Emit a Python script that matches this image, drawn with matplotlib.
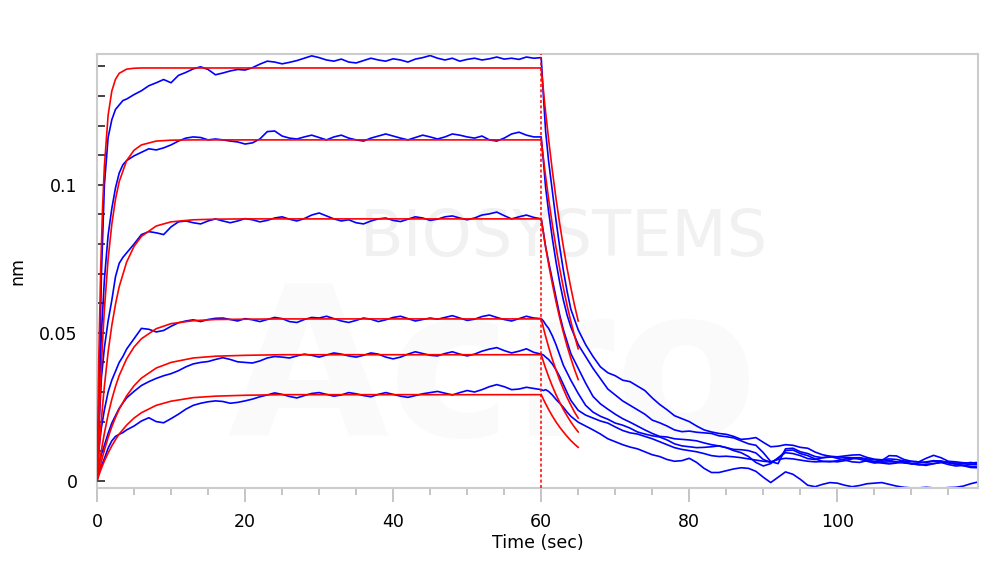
import matplotlib
matplotlib.use("Agg")
import matplotlib.pyplot as plt
from matplotlib.ticker import FixedLocator, MultipleLocator, FuncFormatter

# ---- sample times (sec) ----
t_blue_assoc = [0, 0.3, 0.6, 1, 1.5, 2, 2.5, 3, 3.5] + list(range(4, 61))
t_blue_dissoc = [60.3, 60.6, 61, 61.5, 62, 62.5, 63, 63.5, 64] + list(range(65, 120))
t_fit_assoc = [0, 0.25, 0.5, 0.75, 1, 1.5, 2, 2.5, 3, 4, 5, 6, 8, 10, 13, 16, 20, 25, 60]
t_fit_dissoc = [60, 60.5, 61, 61.5, 62, 62.5, 63, 63.5, 64, 64.5, 65]

# ---- measured response (nm), association ----
blue1_assoc = [0.0, 0.035, 0.07, 0.1, 0.116, 0.122, 0.1255, 0.127, 0.1285,
               0.129, 0.1305, 0.1318, 0.1335, 0.1345, 0.1356, 0.1345, 0.137, 0.138, 0.1392,
               0.1399, 0.139, 0.1372, 0.1378, 0.1385, 0.139, 0.1388, 0.1396, 0.1408, 0.1418,
               0.1415, 0.1409, 0.1414, 0.142, 0.1428, 0.1436, 0.143, 0.1422, 0.1418, 0.1425,
               0.1415, 0.1412, 0.142, 0.1428, 0.1422, 0.1418, 0.1426, 0.1422, 0.1415, 0.1425,
               0.143, 0.1437, 0.1428, 0.1422, 0.1428, 0.1418, 0.1424, 0.1428, 0.1422, 0.1426,
               0.1432, 0.1425, 0.1428, 0.1424, 0.1432, 0.1428, 0.143]
blue2_assoc = [0.0, 0.03, 0.05, 0.068, 0.083, 0.092, 0.099, 0.104, 0.1068,
               0.1082, 0.1098, 0.111, 0.1122, 0.1118, 0.1125, 0.1135, 0.1148, 0.1158, 0.1162,
               0.116, 0.1152, 0.1155, 0.1152, 0.1148, 0.1145, 0.1138, 0.1142, 0.1155, 0.118,
               0.1182, 0.1165, 0.1158, 0.1155, 0.1162, 0.1168, 0.116, 0.1152, 0.1162, 0.1168,
               0.1158, 0.1152, 0.1148, 0.1158, 0.1165, 0.1172, 0.1165, 0.1158, 0.1152, 0.116,
               0.1168, 0.1162, 0.1155, 0.1162, 0.1172, 0.1168, 0.1162, 0.1158, 0.1165, 0.1152,
               0.1148, 0.1158, 0.1172, 0.1178, 0.1168, 0.1162, 0.1162]
blue3_assoc = [0.0, 0.02, 0.035, 0.045, 0.054, 0.061, 0.069, 0.0735, 0.0755,
               0.077, 0.080, 0.0832, 0.0842, 0.0838, 0.0832, 0.0858, 0.0875, 0.0878, 0.0872,
               0.0868, 0.0878, 0.0885, 0.0878, 0.0872, 0.0878, 0.0886, 0.0882, 0.0875, 0.088,
               0.0888, 0.0892, 0.0884, 0.0878, 0.0886, 0.0898, 0.0905, 0.0895, 0.0885, 0.0878,
               0.0882, 0.0872, 0.0868, 0.0878, 0.0885, 0.0888, 0.088, 0.0876, 0.0884, 0.0892,
               0.0888, 0.088, 0.0884, 0.0892, 0.0895, 0.0888, 0.0882, 0.0888, 0.0898, 0.0902,
               0.0908, 0.0896, 0.0885, 0.0892, 0.0898, 0.089, 0.0885]
blue4_assoc = [0.0, 0.012, 0.018, 0.024, 0.03, 0.034, 0.037, 0.040, 0.042,
               0.0445, 0.048, 0.0515, 0.0512, 0.0503, 0.0508, 0.0522, 0.0534, 0.054, 0.0544,
               0.0538, 0.0545, 0.0549, 0.055, 0.0545, 0.054, 0.0548, 0.0544, 0.0538, 0.0545,
               0.0552, 0.0548, 0.0538, 0.0535, 0.0545, 0.0552, 0.055, 0.0556, 0.0548, 0.054,
               0.0535, 0.0542, 0.055, 0.0546, 0.0538, 0.0544, 0.0552, 0.0556, 0.0548, 0.054,
               0.0545, 0.055, 0.0546, 0.0552, 0.0558, 0.055, 0.0542, 0.0546, 0.0555, 0.056,
               0.0552, 0.0545, 0.054, 0.0548, 0.0556, 0.055, 0.0548]
blue5_assoc = [0.0, 0.006, 0.009, 0.012, 0.016, 0.0195, 0.022, 0.0245, 0.0263,
               0.028, 0.0302, 0.0322, 0.0335, 0.0346, 0.0355, 0.0362, 0.0372, 0.0385, 0.0395,
               0.04, 0.0403, 0.041, 0.0416, 0.041, 0.0402, 0.04, 0.0398, 0.0405, 0.0415,
               0.042, 0.0418, 0.0415, 0.0422, 0.0428, 0.0424, 0.0418, 0.0425, 0.0432, 0.0428,
               0.0422, 0.0418, 0.0424, 0.0432, 0.0428, 0.0418, 0.0412, 0.0418, 0.0428, 0.0436,
               0.043, 0.0424, 0.0422, 0.043, 0.0436, 0.0428, 0.0422, 0.0428, 0.0438, 0.0445,
               0.045, 0.044, 0.0432, 0.0438, 0.0446, 0.0434, 0.0428]
blue6_assoc = [0.0, 0.003, 0.005, 0.0075, 0.011, 0.0135, 0.015, 0.0157, 0.0163,
               0.0172, 0.0185, 0.0202, 0.0213, 0.02, 0.0196, 0.021, 0.0225, 0.0242, 0.0255,
               0.0262, 0.0267, 0.027, 0.0268, 0.0262, 0.0265, 0.027, 0.0276, 0.0284, 0.029,
               0.0297, 0.0292, 0.0285, 0.028, 0.0288, 0.0295, 0.0298, 0.0292, 0.0286, 0.029,
               0.0298, 0.0294, 0.0288, 0.0284, 0.0292, 0.0298, 0.0292, 0.0286, 0.0282, 0.0288,
               0.0294, 0.0298, 0.0302, 0.0296, 0.029, 0.0298, 0.0305, 0.03, 0.0308, 0.0318,
               0.0325, 0.0318, 0.0308, 0.031, 0.0316, 0.0312, 0.0308]

# ---- measured response (nm), dissociation ----
blue1_dissoc = [0.130, 0.118, 0.108, 0.098, 0.088, 0.079, 0.071, 0.064, 0.058,
                0.051, 0.046, 0.042, 0.0385, 0.0365, 0.0355, 0.034, 0.0335, 0.032, 0.0305,
                0.028, 0.0258, 0.024, 0.022, 0.021, 0.020, 0.0185, 0.0172, 0.0165, 0.016,
                0.0157, 0.015, 0.014, 0.0142, 0.0146, 0.013, 0.0115, 0.0117, 0.0122, 0.012,
                0.0113, 0.011, 0.0097, 0.0088, 0.0083, 0.0081, 0.0084, 0.0087, 0.0088, 0.0079,
                0.0073, 0.0071, 0.0074, 0.0072, 0.0067, 0.0065, 0.0064, 0.0076, 0.0086, 0.0078,
                0.0066, 0.0064, 0.0061, 0.006, 0.0062]
blue2_dissoc = [0.108, 0.099, 0.091, 0.082, 0.074, 0.067, 0.061, 0.056, 0.052,
                0.046, 0.042, 0.038, 0.0345, 0.031, 0.029, 0.027, 0.0255, 0.024, 0.0225,
                0.0205, 0.0196, 0.0185, 0.0172, 0.0166, 0.0168, 0.0164, 0.0162, 0.016, 0.0152,
                0.0149, 0.0145, 0.0135, 0.0125, 0.012, 0.0095, 0.0065, 0.0058, 0.0108, 0.011,
                0.0098, 0.0092, 0.0082, 0.0078, 0.008, 0.0081, 0.0079, 0.0078, 0.0078, 0.0074,
                0.0071, 0.0068, 0.0085, 0.0084, 0.0072, 0.0066, 0.0064, 0.0062, 0.0066, 0.0067,
                0.006, 0.0056, 0.0052, 0.0049, 0.0047]
blue3_dissoc = [0.084, 0.079, 0.074, 0.068, 0.062, 0.056, 0.051, 0.047, 0.043,
                0.038, 0.033, 0.0285, 0.026, 0.0242, 0.0225, 0.021, 0.0198, 0.0185, 0.0172,
                0.016, 0.015, 0.0148, 0.0142, 0.014, 0.0138, 0.0135, 0.0128, 0.0122, 0.0118,
                0.0112, 0.0106, 0.0105, 0.0102, 0.0094, 0.0072, 0.0062, 0.0075, 0.0102, 0.0104,
                0.0092, 0.0085, 0.0074, 0.0066, 0.0064, 0.0068, 0.0074, 0.0077, 0.0073, 0.0066,
                0.006, 0.0062, 0.0064, 0.0063, 0.0065, 0.0058, 0.0054, 0.0056, 0.0058, 0.0062,
                0.0064, 0.0057, 0.0051, 0.0045, 0.0044]
blue4_dissoc = [0.054, 0.0528, 0.0515, 0.049, 0.046, 0.0425, 0.039, 0.0365, 0.034,
                0.0295, 0.0255, 0.0232, 0.0218, 0.0208, 0.0195, 0.0188, 0.0178, 0.0165, 0.0158,
                0.0152, 0.0148, 0.0138, 0.0125, 0.0118, 0.0115, 0.0112, 0.0113, 0.0115, 0.0118,
                0.0112, 0.0102, 0.0095, 0.0082, 0.0062, 0.005, 0.0058, 0.0078, 0.0095, 0.0092,
                0.0085, 0.0075, 0.0072, 0.0078, 0.0082, 0.0076, 0.007, 0.0064, 0.0062, 0.0068,
                0.0065, 0.006, 0.0057, 0.006, 0.0063, 0.0057, 0.0055, 0.0052, 0.0058, 0.0062,
                0.0055, 0.005, 0.0052, 0.0056, 0.0054]
blue5_dissoc = [0.0425, 0.0418, 0.041, 0.0395, 0.0375, 0.0352, 0.0325, 0.0298, 0.0272,
                0.0238, 0.0222, 0.0212, 0.0202, 0.0195, 0.0182, 0.017, 0.0162, 0.0158, 0.015,
                0.0142, 0.0132, 0.0122, 0.0112, 0.0106, 0.0102, 0.0098, 0.0092, 0.0085, 0.0082,
                0.0083, 0.0081, 0.0078, 0.0074, 0.007, 0.0066, 0.0064, 0.0072, 0.0076, 0.0074,
                0.007, 0.0066, 0.0064, 0.0065, 0.0066, 0.0064, 0.0068, 0.0074, 0.0078, 0.007,
                0.0064, 0.0066, 0.0069, 0.0064, 0.006, 0.0058, 0.006, 0.0064, 0.0068, 0.0066,
                0.0062, 0.006, 0.0058, 0.0062, 0.0058]
blue6_dissoc = [0.0305, 0.0308, 0.0302, 0.029, 0.0275, 0.0262, 0.0248, 0.0232, 0.0218,
                0.0198, 0.0185, 0.0172, 0.0158, 0.0142, 0.0132, 0.0122, 0.0114, 0.0108, 0.0098,
                0.0088, 0.0082, 0.0072, 0.0066, 0.0068, 0.0076, 0.0062, 0.0042, 0.0028, 0.0028,
                0.0034, 0.004, 0.0044, 0.0042, 0.0032, 0.0012, -0.0006, 0.0012, 0.003, 0.0022,
                0.0005, -0.0015, -0.002, -0.0012, -0.0006, -0.0008, -0.0015, -0.002, -0.0016, -0.001,
                -0.0008, -0.0006, -0.0012, -0.0018, -0.0022, -0.0024, -0.0024, -0.0022, -0.0024, -0.0025,
                -0.0023, -0.0022, -0.0018, -0.001, -0.0004]

# ---- fitted curves (nm) ----
red1_assoc = [0, 0.0421, 0.0716, 0.0921, 0.1064, 0.1235, 0.1317, 0.1357, 0.1377, 0.1391,
              0.1394, 0.1395, 0.1395, 0.1395, 0.1395, 0.1395, 0.1395, 0.1395, 0.1395]
red2_assoc = [0, 0.0185, 0.034, 0.047, 0.058, 0.0749, 0.0867, 0.0952, 0.1011, 0.1082,
              0.1117, 0.1135, 0.1148, 0.1151, 0.1152, 0.1152, 0.1152, 0.1152, 0.1152]
red3_assoc = [0, 0.0094, 0.0178, 0.0253, 0.032, 0.0435, 0.0525, 0.0597, 0.0656, 0.0739,
              0.0792, 0.0826, 0.0861, 0.0875, 0.0882, 0.0884, 0.0885, 0.0885, 0.0885]
red4_assoc = [0, 0.0046, 0.0088, 0.0126, 0.0161, 0.0223, 0.0275, 0.0319, 0.0356, 0.0412,
              0.0452, 0.048, 0.0514, 0.0531, 0.0541, 0.0545, 0.0546, 0.0547, 0.0547]
red5_assoc = [0, 0.0029, 0.0056, 0.0081, 0.0104, 0.0146, 0.0183, 0.0214, 0.0242, 0.0287,
              0.0321, 0.0347, 0.0381, 0.04, 0.0415, 0.0421, 0.0424, 0.0426, 0.0426]
red6_assoc = [0, 0.0018, 0.0036, 0.0052, 0.0067, 0.0094, 0.0118, 0.0139, 0.0158, 0.0188,
              0.0212, 0.023, 0.0255, 0.0269, 0.0281, 0.0286, 0.0289, 0.0291, 0.0291]

red1_dissoc = [0.1395, 0.1268, 0.1154, 0.1049, 0.0954, 0.0868, 0.079, 0.0717, 0.0653, 0.0593, 0.054]
red2_dissoc = [0.1152, 0.1047, 0.0953, 0.0866, 0.0788, 0.0717, 0.0652, 0.0592, 0.0539, 0.049, 0.0446]
red3_dissoc = [0.0885, 0.0804, 0.0732, 0.0666, 0.0605, 0.055, 0.0501, 0.0455, 0.0414, 0.0376, 0.0342]
red4_dissoc = [0.0547, 0.0497, 0.0452, 0.0411, 0.0374, 0.034, 0.031, 0.0281, 0.0256, 0.0232, 0.0212]
red5_dissoc = [0.0426, 0.0387, 0.0352, 0.032, 0.0291, 0.0265, 0.0241, 0.0219, 0.0199, 0.0181, 0.0165]
red6_dissoc = [0.0291, 0.0265, 0.0241, 0.0219, 0.0199, 0.0181, 0.0165, 0.015, 0.0136, 0.0124, 0.0113]

blue_assoc = [blue1_assoc, blue2_assoc, blue3_assoc, blue4_assoc, blue5_assoc, blue6_assoc]
blue_dissoc = [blue1_dissoc, blue2_dissoc, blue3_dissoc, blue4_dissoc, blue5_dissoc, blue6_dissoc]
red_assoc = [red1_assoc, red2_assoc, red3_assoc, red4_assoc, red5_assoc, red6_assoc]
red_dissoc = [red1_dissoc, red2_dissoc, red3_dissoc, red4_dissoc, red5_dissoc, red6_dissoc]

fig = plt.figure(figsize=(10, 5.66), dpi=100)
ax = fig.add_axes([0.097, 0.138, 0.881, 0.767])

# faint watermark
ax.text(0.53, 0.575, "BIOSYSTEMS", transform=ax.transAxes, ha="center", va="center",
        fontsize=46, color="#f1f1f1", zorder=0)
ax.text(0.45, 0.02, "Acro", transform=ax.transAxes, ha="center", va="bottom",
        fontsize=150, color="#fafafa", zorder=0, fontweight="bold")

# 测量曲线 (蓝)
for a, d in zip(blue_assoc, blue_dissoc):
    ax.plot(t_blue_assoc + t_blue_dissoc, a + d, color="#0000ff", lw=1.2, zorder=2)

# 拟合曲线 (红)
for a, d in zip(red_assoc, red_dissoc):
    ax.plot(t_fit_assoc, a, color="#ff0000", lw=1.2, zorder=3)
    ax.plot(t_fit_dissoc, d, color="#ff0000", lw=1.2, zorder=3)

ax.axvline(60, color="#ff0000", lw=1.1, ls=(0, (2, 1.5)), zorder=3)

ax.set_xlim(0, 119)
ax.set_ylim(-0.0024, 0.1443)

for s in ax.spines.values():
    s.set_color("#cccccc")
    s.set_linewidth(1.5)

# x axis: ticks outside, grey
ax.xaxis.set_major_locator(MultipleLocator(20))
ax.xaxis.set_minor_locator(MultipleLocator(5))
ax.tick_params(axis="x", which="major", direction="out", length=10, width=1.2,
               color="#bbbbbb", labelsize=12.5, pad=8)
ax.tick_params(axis="x", which="minor", direction="out", length=5, width=1.2, color="#bbbbbb")

# y axis: small dark ticks inside, labels only at 0, 0.05, 0.1
ax.yaxis.set_major_locator(FixedLocator([i / 100 for i in range(15)]))
ax.yaxis.set_major_formatter(FuncFormatter(
    lambda v, p: {0: "0", 5: "0.05", 10: "0.1"}.get(int(round(v * 100)), "")))
ax.tick_params(axis="y", which="major", direction="in", length=6, width=1.2,
               color="#222222", labelsize=12.5, pad=14)

ax.set_xlabel("Time (sec)", fontsize=12.5, labelpad=2)
ax.set_ylabel("nm", fontsize=12.5)
ax.yaxis.set_label_coords(-0.08, 0.5)

plt.savefig("out.png", dpi=100)
